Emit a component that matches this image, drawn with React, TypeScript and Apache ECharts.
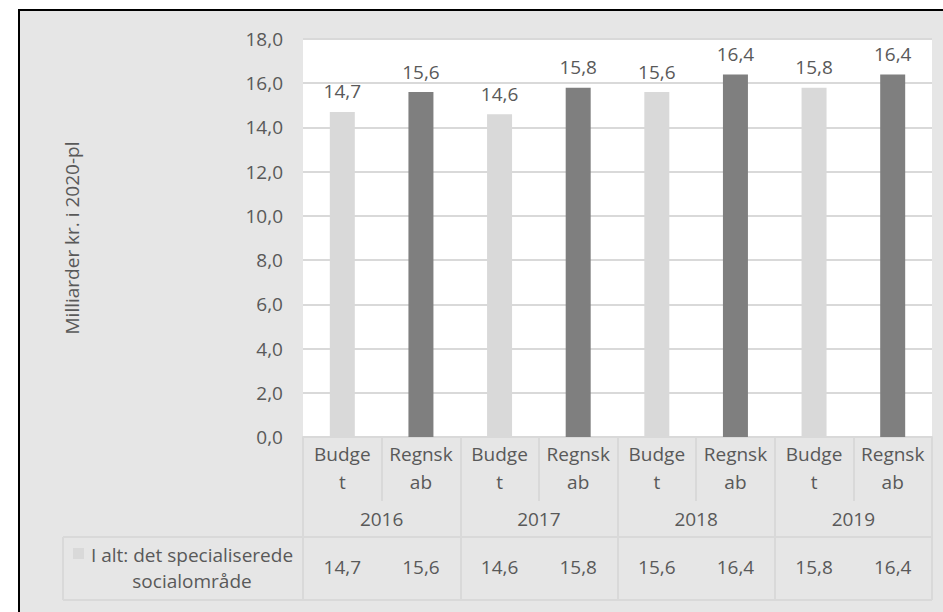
import React, { useEffect, useRef } from "react";
import * as echarts from "echarts";

const years = ["2016", "2017", "2018", "2019"];
const kinds = ["Budget", "Regnskab"];
const kindLabels = ["Budge\nt", "Regnsk\nab"];
const budget = [14.7, 14.6, 15.6, 15.8];
const regnskab = [15.6, 15.8, 16.4, 16.4];
const seriesName = "I alt: det specialiserede socialområde";
const yAxisName = "Milliarder kr. i 2020-pl";
const kindColors = ["#d9d9d9", "#7f7f7f"];

const fmt = (v: number) => v.toFixed(1).replace(".", ",");

export default function App() {
  const ref = useRef<HTMLDivElement>(null);
  useEffect(() => {
    if (!ref.current) return;
    const chart = echarts.init(ref.current, undefined, { renderer: "svg" });

    const cats: string[] = [];
    const catLabels: string[] = [];
    const values: { value: number; itemStyle: { color: string } }[] = [];
    years.forEach((y, i) => {
      [budget[i], regnskab[i]].forEach((v, k) => {
        cats.push(`${kinds[k]} ${y}`);
        catLabels.push(kindLabels[k]);
        values.push({ value: v, itemStyle: { color: kindColors[k] } });
      });
    });
    const valueLabels = values.map((d) => fmt(d.value));

    const text = "#595959";
    const line = "#d9d9d9";
    const font = "'Open Sans', 'Noto Sans', sans-serif";
    const fs = 19;

    const gridLeft = 303;
    const gridRight = 932;
    const gridTop = 39;
    const gridBottom = 437;

    chart.setOption({
      animation: false,
      textStyle: { fontFamily: font },
      grid: {
        left: gridLeft,
        top: gridTop,
        width: gridRight - gridLeft,
        height: gridBottom - gridTop,
        show: true,
        backgroundColor: "#ffffff",
        borderWidth: 0,
        containLabel: false,
      },
      yAxis: {
        type: "value",
        min: 0,
        max: 18,
        interval: 2,
        name: yAxisName,
        nameLocation: "middle",
        nameGap: 222,
        nameTextStyle: { color: text, fontSize: 19, fontFamily: font },
        axisLine: { show: false },
        axisTick: { show: false },
        axisLabel: {
          color: text,
          fontSize: fs,
          margin: 20,
          fontFamily: font,
          formatter: (v: number) => fmt(v),
        },
        splitLine: { lineStyle: { color: line, width: 2 } },
      },
      xAxis: [
        {
          type: "category",
          data: cats,
          position: "bottom",
          offset: 0,
          axisLine: { show: true, lineStyle: { color: line, width: 2 } },
          axisTick: { show: true, length: 64, lineStyle: { color: line, width: 2 } },
          axisLabel: {
            color: text,
            fontSize: fs,
            lineHeight: 28,
            margin: 3,
            fontFamily: font,
            interval: 0,
            formatter: (_: string, idx: number) => catLabels[idx],
          },
        },
        {
          type: "category",
          data: years,
          position: "bottom",
          offset: 0,
          axisLine: { show: false },
          axisTick: { show: true, length: 163, lineStyle: { color: line, width: 2 } },
          axisLabel: { color: text, fontSize: fs, margin: 72, fontFamily: font, interval: 0 },
        },
        {
          type: "category",
          data: valueLabels,
          position: "bottom",
          offset: 100,
          axisLine: { show: false },
          axisTick: { show: false },
          axisLabel: { color: text, fontSize: fs, margin: 20, fontFamily: font, interval: 0 },
        },
      ],
      series: [
        {
          name: seriesName,
          type: "bar",
          xAxisIndex: 0,
          data: values,
          barWidth: 25,
          label: {
            show: true,
            position: "top",
            distance: 11,
            color: text,
            fontSize: fs,
            fontFamily: font,
            formatter: (p: any) => fmt(p.value),
          },
        },
      ],
      graphic: [
        {
          type: "rect",
          z: -10,
          shape: { x: 19, y: 10, width: 1000, height: 700 },
          style: { fill: "#e6e6e6", stroke: "#000000", lineWidth: 2 },
          silent: true,
        },
        {
          type: "line",
          shape: { x1: 63, y1: 537, x2: gridRight, y2: 537 },
          style: { stroke: line, lineWidth: 2 },
        },
        {
          type: "line",
          shape: { x1: 63, y1: 600, x2: gridRight, y2: 600 },
          style: { stroke: line, lineWidth: 2 },
        },
        {
          type: "line",
          shape: { x1: 63, y1: 537, x2: 63, y2: 600 },
          style: { stroke: line, lineWidth: 2 },
        },
        {
          type: "rect",
          shape: { x: 73, y: 548, width: 11, height: 11 },
          style: { fill: kindColors[0] },
        },
        {
          type: "text",
          x: 192,
          y: 568,
          style: {
            text: seriesName.replace(" socialområde", "\nsocialområde"),
            fill: text,
            fontSize: fs,
            fontFamily: font,
            lineHeight: 26,
            align: "center",
            verticalAlign: "middle",
          },
        },
      ],
    });
    return () => chart.dispose();
  }, []);

  return (
    <div
      ref={ref}
      style={{ position: "fixed", left: 0, top: 0, width: 943, height: 612, background: "#ffffff" }}
    />
  );
}
